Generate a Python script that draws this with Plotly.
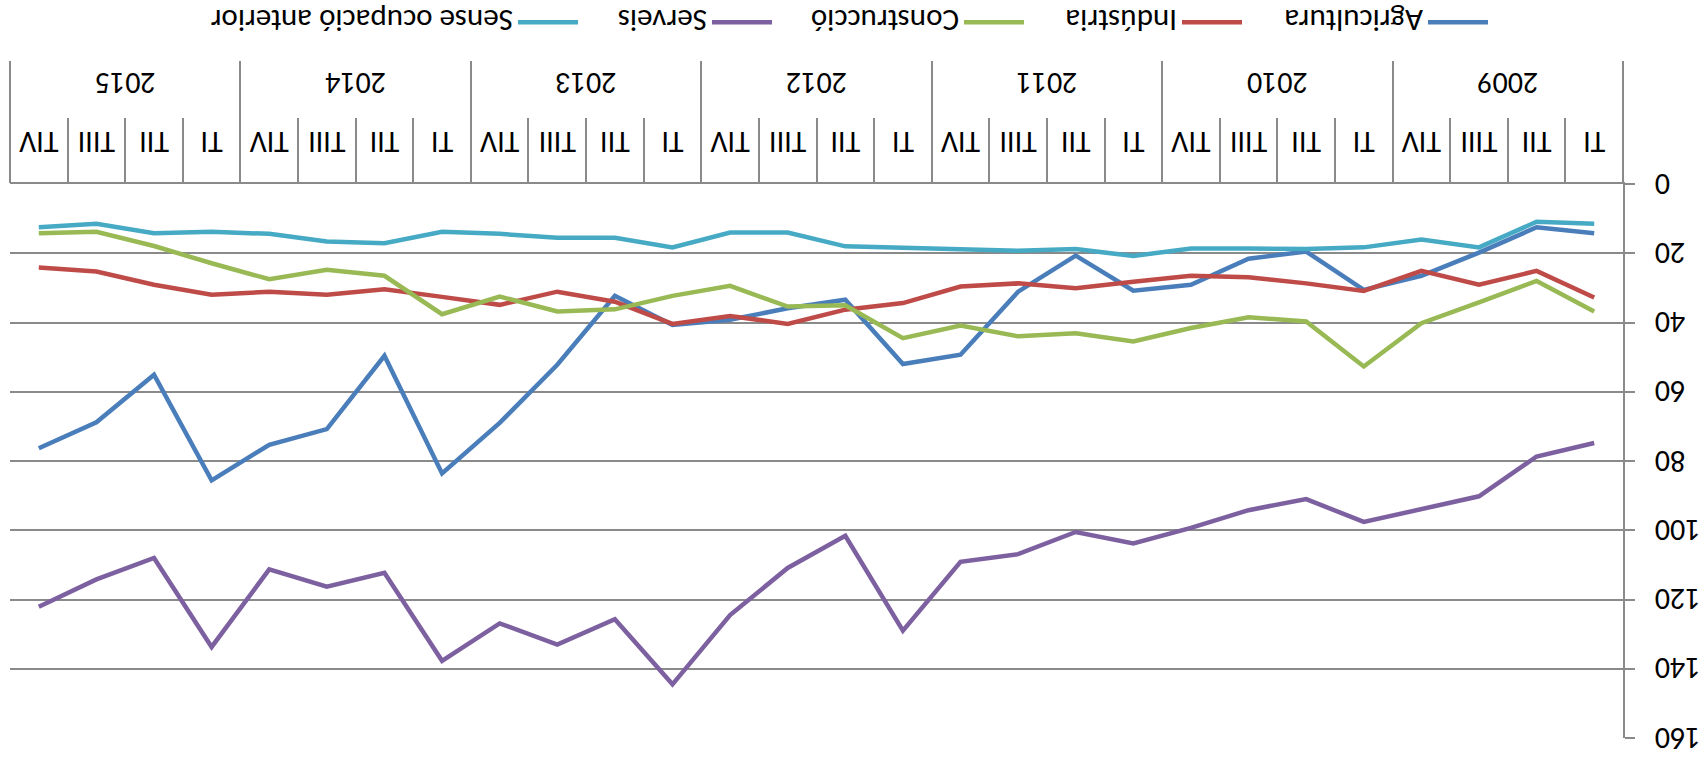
import plotly.graph_objects as go

years = ["2009", "2010", "2011", "2012", "2013", "2014", "2015"]
quarters = ["TI", "TII", "TIII", "TIV"]
categories = [f"{y} {q}" for y in years for q in quarters]
quarter_labels = [q for y in years for q in quarters]

agricultura = [14.2, 12.5, 19.8, 26.5, 30.6, 19.5, 21.6, 29.1, 30.8, 20.7, 31.1, 49.3,
               52.0, 33.4, 35.9, 39.2, 40.7, 32.3, 52.2, 69.0, 83.6, 49.6, 70.8, 75.3,
               85.6, 55.1, 68.8, 76.3]
industria = [32.8, 25.1, 29.1, 25.1, 30.9, 28.7, 26.9, 26.5, 28.2, 30.1, 28.7, 29.6,
             34.4, 36.3, 40.4, 38.1, 40.4, 34.0, 31.1, 34.9, 32.6, 30.4, 32.0, 31.1,
             32.0, 29.1, 25.3, 24.1]
construccio = [36.8, 28.0, 34.2, 40.2, 52.7, 39.7, 38.5, 41.6, 45.5, 43.1, 44.0, 40.9,
               44.5, 35.0, 35.4, 29.4, 32.3, 36.2, 36.8, 32.5, 37.6, 26.5, 24.8, 27.5,
               22.9, 17.9, 13.8, 14.2]
serveis = [74.8, 78.7, 90.2, 94.0, 97.6, 91.0, 94.2, 99.3, 103.8, 100.5, 106.9, 109.1,
           129.0, 101.6, 110.9, 124.5, 144.5, 125.7, 133.0, 126.9, 137.7, 112.3, 116.3, 111.3,
           133.7, 108.0, 114.2, 122.1]
sense_ocupacio = [11.5, 10.9, 18.3, 16.0, 18.3, 18.8, 18.6, 18.6, 20.8, 18.8, 19.3, 18.8,
                  18.3, 18.0, 14.0, 14.0, 18.3, 15.5, 15.5, 14.4, 13.8, 17.1, 16.6, 14.4,
                  13.8, 14.2, 11.5, 12.5]

series_names = ["Agricultura", "Indústria", "Construcció", "Serveis", "Sense ocupació anterior"]
series_values = [agricultura, industria, construccio, serveis, sense_ocupacio]
series_colors = ["#4A7EBB", "#BE4B48", "#98B954", "#7D60A0", "#46AAC5"]

y_ticks = [0, 20, 40, 60, 80, 100, 120, 140, 160]

# layout / style settings
FONT = "Carlito, Calibri, Lato, sans-serif"
GRID = "#8a8a8a"
TICK_SIZE = 30
W, H = 1706, 762
M_L, M_R, M_T, M_B = 83, 10, 24, 184
LEGEND_FROM_BOTTOM = 22
legend_item_left_px = [218, 464, 682, 934, 1128]   # left edge of each legend entry

fig = go.Figure()
legend_ids = ["legend"] + [f"legend{i}" for i in range(2, len(series_names) + 1)]
for name, vals, color, lid in zip(series_names, series_values, series_colors, legend_ids):
    fig.add_trace(go.Scatter(x=categories, y=vals, mode="lines", name=name,
                             legend=lid, line=dict(color=color, width=4.5)))

n = len(categories)
nq = len(quarters)
year_centers = [i * nq + (nq - 1) / 2 for i in range(len(years))]
year_bounds = [i * nq - 0.5 for i in range(len(years) + 1)]

# empty helper trace so the year axis (x2) is drawn
fig.add_trace(go.Scatter(x=year_centers, y=[None] * len(year_centers), xaxis="x2",
                         yaxis="y", mode="lines", showlegend=False, hoverinfo="skip"))

plot_w = W - M_L - M_R
plot_h = H - M_T - M_B

legends = {}
for lid, left in zip(legend_ids, legend_item_left_px):
    legends[lid] = dict(orientation="h", x=(left - 5 - M_L) / plot_w, xanchor="left",
                        y=-(M_B - LEGEND_FROM_BOTTOM) / plot_h, yanchor="middle",
                        font=dict(size=31, family=FONT), itemwidth=60,
                        bgcolor="rgba(0,0,0,0)", borderwidth=0)

fig.update_layout(
    width=W, height=H,
    margin=dict(l=M_L, r=M_R, t=M_T, b=M_B, autoexpand=False),
    paper_bgcolor="white", plot_bgcolor="white",
    font=dict(family=FONT, size=TICK_SIZE, color="#000000"),
    showlegend=True,
    **legends,
    xaxis=dict(type="category", categoryorder="array", categoryarray=categories,
               range=[-0.5, n - 0.5], tickmode="array", tickvals=categories,
               ticktext=quarter_labels, tickson="boundaries", ticks="outside",
               ticklen=64, tickwidth=1.5, tickcolor=GRID, showline=True,
               linecolor=GRID, linewidth=1.5, showgrid=False, zeroline=False,
               ticklabelstandoff=14, tickfont=dict(size=TICK_SIZE), tickangle=0,
               automargin=False),
    xaxis2=dict(type="linear", overlaying="x", anchor="y", side="bottom",
                range=[-0.5, n - 0.5], tickmode="array", tickvals=year_centers,
                ticktext=years, ticks="", showgrid=False, zeroline=False,
                showline=False, ticklabelstandoff=80, tickfont=dict(size=TICK_SIZE),
                tickangle=0, automargin=False,
                minor=dict(tickmode="array", tickvals=year_bounds, ticks="outside",
                           ticklen=122, tickwidth=1.5, tickcolor=GRID, showgrid=False)),
    yaxis=dict(range=[0, 160], tickmode="array", tickvals=y_ticks, showgrid=True,
               gridcolor=GRID, gridwidth=1.5, zeroline=False, showline=True,
               linecolor=GRID, linewidth=1.5, ticks="outside", ticklen=10,
               tickwidth=1.5, tickcolor=GRID, ticklabelstandoff=14,
               tickfont=dict(size=TICK_SIZE), automargin=False),
)

post = ("document.body.style.margin='0';"
        "var d=document.getElementById('{plot_id}');"
        "d.style.transformOrigin='50% 50%';"
        "d.style.transform='rotate(180deg)';")
fig.write_html("out.html", post_script=post, config={"displayModeBar": False})
